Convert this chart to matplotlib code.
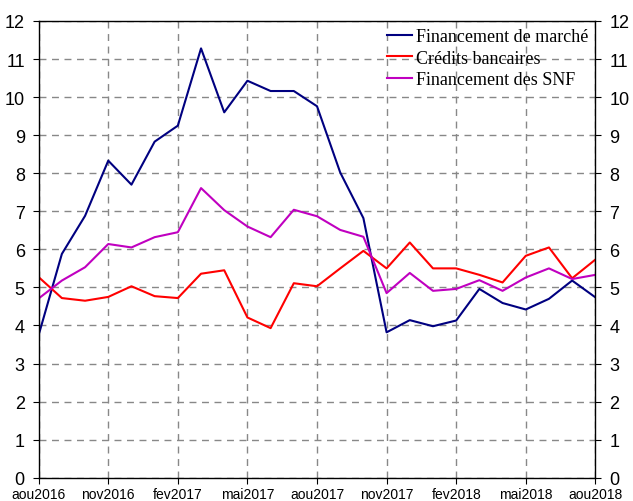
import numpy as np
import matplotlib.pyplot as plt

months = ["aou2016", "sep2016", "oct2016", "nov2016", "dec2016", "jan2017",
          "fev2017", "mar2017", "avr2017", "mai2017", "jun2017", "jul2017",
          "aou2017", "sep2017", "oct2017", "nov2017", "dec2017", "jan2018",
          "fev2018", "mar2018", "avr2018", "mai2018", "jun2018", "jul2018",
          "aou2018"]

marche = [3.75, 5.88, 6.88, 8.33, 7.70, 8.83, 9.25, 11.28, 9.60, 10.43, 10.16, 10.16,
          9.76, 8.02, 6.82, 3.82, 4.14, 3.98, 4.13, 4.96, 4.59, 4.42, 4.70, 5.18, 4.74]
credits = [5.27, 4.72, 4.65, 4.75, 5.03, 4.77, 4.72, 5.36, 5.45, 4.21, 3.93, 5.11,
           5.03, 5.50, 5.96, 5.50, 6.18, 5.50, 5.50, 5.33, 5.13, 5.83, 6.05, 5.24, 5.73]
snf = [4.71, 5.18, 5.53, 6.14, 6.05, 6.32, 6.45, 7.61, 7.03, 6.60, 6.32, 7.04,
       6.87, 6.51, 6.33, 4.85, 5.38, 4.91, 4.96, 5.19, 4.91, 5.26, 5.50, 5.22, 5.33]

labels = ["Financement de marché", "Crédits bancaires", "Financement des SNF"]
colors = ["#000080", "#ff0000", "#c000c0"]

x = np.arange(len(months))

fig = plt.figure(figsize=(6.33, 5.02), dpi=100)
ax = fig.add_axes([0.0611, 0.0464, 0.8794, 0.9098])

for series, lab, col in zip([marche, credits, snf], labels, colors):
    ax.plot(x, series, color=col, lw=1.5, label=lab)

ax.set_xlim(0, len(months) - 1)
ax.set_ylim(0, 12)
ax.set_yticks(range(13))
ax.set_xticks(x[::3])
ax.set_xticklabels(months[::3])

ax.grid(True, color="#888888", linestyle=(0, (5, 4)), lw=1)
ax.tick_params(axis="y", direction="out", length=4, right=True, labelright=True,
               pad=6, labelsize=13, labelfontfamily="Liberation Sans")
ax.tick_params(axis="x", direction="out", length=4, pad=3, labelsize=10,
               labelfontfamily="Liberation Sans")
for s in ax.spines.values():
    s.set_linewidth(1)

ax.legend(loc="upper right", frameon=False, handlelength=1.4, handletextpad=0.2,
          labelspacing=0.24, borderaxespad=0.0,
          prop={"family": "Liberation Serif", "size": 13})

fig.savefig("out.png", dpi=100)
